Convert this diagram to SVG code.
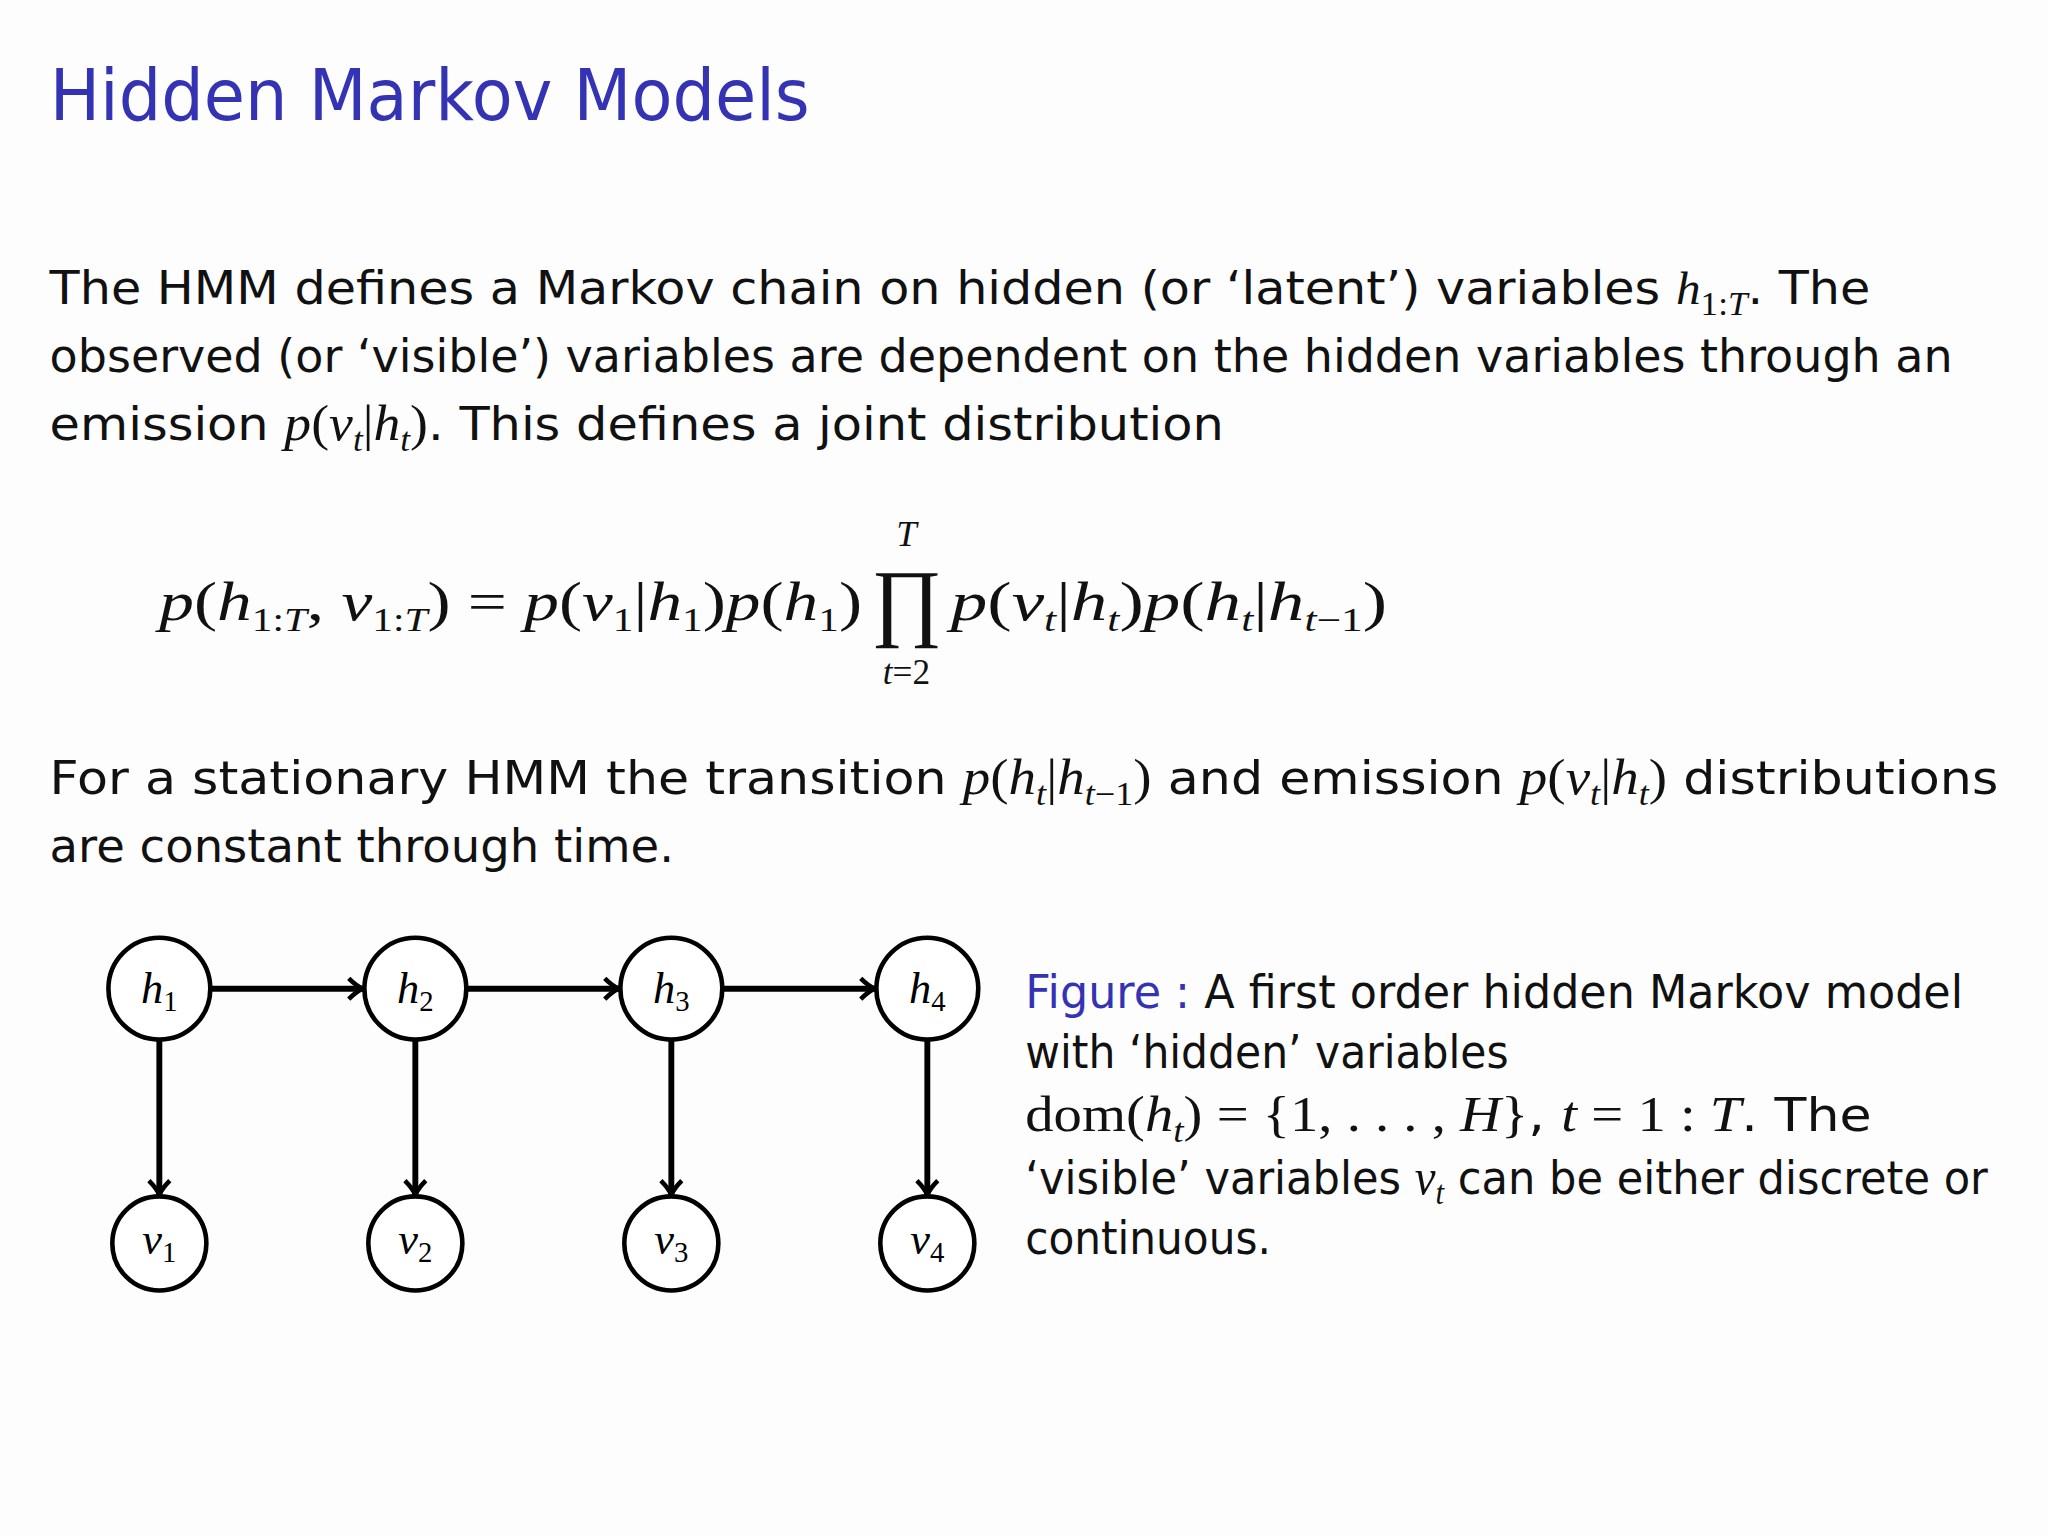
<svg xmlns="http://www.w3.org/2000/svg" width="2048" height="1536" viewBox="0 0 2048 1536">
<style>
.t{font-family:"DejaVu Sans","Liberation Sans",sans-serif;font-size:35px;fill:#111}
.m{font-family:"Liberation Serif",serif;font-style:italic}
.r{font-family:"Liberation Serif",serif;font-style:normal}
.s{font-size:25px}
.n{fill:#fff;stroke:#000;stroke-width:3.5}
.nl{font-family:"Liberation Serif",serif;font-style:italic;font-size:34px;text-anchor:middle;fill:#000}
.e{stroke:#000;stroke-width:4.5;fill:none;marker-end:url(#a)}
</style>
<defs><marker id="a" markerWidth="16" markerHeight="20" refX="14" refY="10" orient="auto" markerUnits="userSpaceOnUse"><path d="M3,2 Q9,8 14,10 Q9,12 3,18" fill="none" stroke="#000" stroke-width="3.5"/></marker></defs>
<rect width="2048" height="1536" fill="#fdfdfd"/>
<g transform="scale(1.3061)">
<text x="38" y="92" font-family="DejaVu Sans,Liberation Sans,sans-serif" font-size="54" fill="#3333b3" textLength="582" lengthAdjust="spacingAndGlyphs">Hidden Markov Models</text>
<text class="t" x="38" y="233" textLength="1394" lengthAdjust="spacingAndGlyphs">The HMM defines a Markov chain on hidden (or ‘latent’) variables <tspan class="m">h</tspan><tspan class="r s" dy="8">1:</tspan><tspan class="m s">T</tspan><tspan dy="-8">. The</tspan></text>
<text class="t" x="38" y="285" textLength="1457" lengthAdjust="spacingAndGlyphs">observed (or ‘visible’) variables are dependent on the hidden variables through an</text>
<text class="t" x="38" y="337" textLength="899" lengthAdjust="spacingAndGlyphs">emission <tspan class="m" font-size="38">p</tspan><tspan class="r" font-size="38">(</tspan><tspan class="m" font-size="38">v</tspan><tspan class="m s" dy="8">t</tspan><tspan class="r" dy="-8" font-size="38">|</tspan><tspan class="m" font-size="38">h</tspan><tspan class="m s" dy="8">t</tspan><tspan class="r" dy="-8" font-size="38">)</tspan>. This defines a joint distribution</text>
<text class="m" x="122" y="475" font-size="42" fill="#111" textLength="538" lengthAdjust="spacingAndGlyphs">p<tspan class="r">(</tspan>h<tspan class="r s" dy="8">1:</tspan><tspan class="s">T</tspan><tspan class="r" dy="-8">, </tspan>v<tspan class="r s" dy="8">1:</tspan><tspan class="s">T</tspan><tspan class="r" dy="-8">) = </tspan>p<tspan class="r">(</tspan>v<tspan class="r s" dy="8">1</tspan><tspan class="r" dy="-8">|</tspan>h<tspan class="r s" dy="8">1</tspan><tspan class="r" dy="-8">)</tspan>p<tspan class="r">(</tspan>h<tspan class="r s" dy="8">1</tspan><tspan class="r" dy="-8">)</tspan></text>
<text class="r" x="694" y="482" font-size="66" text-anchor="middle" fill="#111">∏</text>
<text class="m" x="694" y="418" font-size="28" text-anchor="middle" fill="#111">T</text>
<text class="m" x="694" y="524" font-size="27" text-anchor="middle" fill="#111">t<tspan class="r">=2</tspan></text>
<text class="m" x="728" y="475" font-size="42" fill="#111" textLength="334" lengthAdjust="spacingAndGlyphs">p<tspan class="r">(</tspan>v<tspan class="s" dy="8">t</tspan><tspan class="r" dy="-8">|</tspan>h<tspan class="s" dy="8">t</tspan><tspan class="r" dy="-8">)</tspan>p<tspan class="r">(</tspan>h<tspan class="s" dy="8">t</tspan><tspan class="r" dy="-8">|</tspan>h<tspan class="s" dy="8">t<tspan class="r">−1</tspan></tspan><tspan class="r" dy="-8">)</tspan></text>
<text class="t" x="38" y="608" textLength="1492" lengthAdjust="spacingAndGlyphs">For a stationary HMM the transition <tspan class="m" font-size="38">p</tspan><tspan class="r" font-size="38">(</tspan><tspan class="m" font-size="38">h</tspan><tspan class="m s" dy="8">t</tspan><tspan class="r" dy="-8" font-size="38">|</tspan><tspan class="m" font-size="38">h</tspan><tspan class="m s" dy="8">t</tspan><tspan class="r s">−1</tspan><tspan class="r" dy="-8" font-size="38">)</tspan> and emission <tspan class="m" font-size="38">p</tspan><tspan class="r" font-size="38">(</tspan><tspan class="m" font-size="38">v</tspan><tspan class="m s" dy="8">t</tspan><tspan class="r" dy="-8" font-size="38">|</tspan><tspan class="m" font-size="38">h</tspan><tspan class="m s" dy="8">t</tspan><tspan class="r" dy="-8" font-size="38">)</tspan> distributions</text>
<text class="t" x="38" y="660" textLength="478" lengthAdjust="spacingAndGlyphs">are constant through time.</text>
<g id="edges">
<line class="e" x1="161" y1="757" x2="278" y2="757"/>
<line class="e" x1="357" y1="757" x2="474" y2="757"/>
<line class="e" x1="553" y1="757" x2="670" y2="757"/>
<line class="e" x1="122" y1="796" x2="122" y2="915"/>
<line class="e" x1="318" y1="796" x2="318" y2="915"/>
<line class="e" x1="514" y1="796" x2="514" y2="915"/>
<line class="e" x1="710" y1="796" x2="710" y2="915"/>
</g>
<g id="h1"><circle class="n" cx="122" cy="757" r="39"/><text class="nl" x="122" y="768">h<tspan font-style="normal" font-size="22" dy="6">1</tspan></text></g>
<g id="h2"><circle class="n" cx="318" cy="757" r="39"/><text class="nl" x="318" y="768">h<tspan font-style="normal" font-size="22" dy="6">2</tspan></text></g>
<g id="h3"><circle class="n" cx="514" cy="757" r="39"/><text class="nl" x="514" y="768">h<tspan font-style="normal" font-size="22" dy="6">3</tspan></text></g>
<g id="h4"><circle class="n" cx="710" cy="757" r="39"/><text class="nl" x="710" y="768">h<tspan font-style="normal" font-size="22" dy="6">4</tspan></text></g>
<g id="v1"><circle class="n" cx="122" cy="952" r="36"/><text class="nl" x="122" y="960">v<tspan font-style="normal" font-size="22" dy="6">1</tspan></text></g>
<g id="v2"><circle class="n" cx="318" cy="952" r="36"/><text class="nl" x="318" y="960">v<tspan font-style="normal" font-size="22" dy="6">2</tspan></text></g>
<g id="v3"><circle class="n" cx="514" cy="952" r="36"/><text class="nl" x="514" y="960">v<tspan font-style="normal" font-size="22" dy="6">3</tspan></text></g>
<g id="v4"><circle class="n" cx="710" cy="952" r="36"/><text class="nl" x="710" y="960">v<tspan font-style="normal" font-size="22" dy="6">4</tspan></text></g>
<g id="caption">
<text class="t" x="785" y="772" textLength="718" lengthAdjust="spacingAndGlyphs"><tspan fill="#3333b3">Figure :</tspan> A first order hidden Markov model</text>
<text class="t" x="785" y="818" textLength="370" lengthAdjust="spacingAndGlyphs">with ‘hidden’ variables</text>
<text class="t" x="785" y="866" textLength="648" lengthAdjust="spacingAndGlyphs"><tspan class="r" font-size="38">dom(</tspan><tspan class="m" font-size="38">h</tspan><tspan class="m s" dy="8">t</tspan><tspan class="r" dy="-8" font-size="38">) = {1, . . . , </tspan><tspan class="m" font-size="38">H</tspan><tspan class="r" font-size="38">}</tspan>, <tspan class="m" font-size="38">t</tspan><tspan class="r" font-size="38"> = 1 : </tspan><tspan class="m" font-size="38">T</tspan>. The</text>
<text class="t" x="785" y="914" textLength="737" lengthAdjust="spacingAndGlyphs">‘visible’ variables <tspan class="m" font-size="38">v</tspan><tspan class="m s" dy="8">t</tspan><tspan dy="-8"> can be either discrete or</tspan></text>
<text class="t" x="785" y="960" textLength="188" lengthAdjust="spacingAndGlyphs">continuous.</text>
</g>
</g>
</svg>
